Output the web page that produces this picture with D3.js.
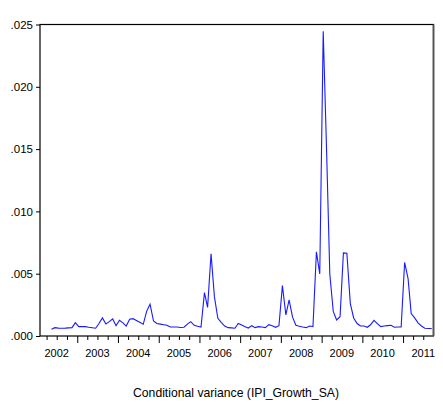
<!DOCTYPE html>
<html>
<head>
<meta charset="utf-8">
<script src="https://cdn.jsdelivr.net/npm/d3@7"></script>
<style>
  body { margin: 0; background: #fff; }
  svg { display: block; font-family: "Liberation Sans", Arial, sans-serif; }
  .axis text { fill: #000; }
</style>
</head>
<body>
<svg width="443" height="404"></svg>
<script>
'use strict';

// monthly conditional variance, 2002M05 .. 2011M09
var startMonth = [2002, 4];   // year, month index (May)
var variance = [
  0.00054, 0.00067, 0.00063, 0.00062, 0.00063, 0.00065, 0.00067, 0.00107, 0.00075, 0.00075,
  0.00075, 0.00070, 0.00066, 0.00062, 0.00100, 0.00145, 0.00096, 0.00115, 0.00137, 0.00083,
  0.00126, 0.00105, 0.00080, 0.00134, 0.00139, 0.00125, 0.00110, 0.00094, 0.00200, 0.00255,
  0.00120, 0.00100, 0.00095, 0.00090, 0.00086, 0.00072, 0.00072, 0.00072, 0.00068, 0.00070,
  0.00095, 0.00115, 0.00086, 0.00078, 0.00072, 0.00348, 0.00230, 0.00660, 0.00316, 0.00142,
  0.00110, 0.00080, 0.00067, 0.00065, 0.00062, 0.00100, 0.00088, 0.00075, 0.00064, 0.00083,
  0.00067, 0.00075, 0.00072, 0.00067, 0.00091, 0.00083, 0.00070, 0.00083, 0.00404, 0.00169,
  0.00290, 0.00151, 0.00086, 0.00078, 0.00072, 0.00067, 0.00080, 0.00075, 0.00675, 0.00498,
  0.02446, 0.01460, 0.00497, 0.00197, 0.00129, 0.00155, 0.00667, 0.00664, 0.00260, 0.00145,
  0.00100, 0.00080, 0.00080, 0.00070, 0.00090, 0.00125, 0.00100, 0.00075, 0.00080, 0.00083,
  0.00086, 0.00070, 0.00072, 0.00072, 0.00590, 0.00460, 0.00180, 0.00145, 0.00105, 0.00080,
  0.00062, 0.00060, 0.00060
];
var yTicks = [0, 0.005, 0.010, 0.015, 0.020, 0.025];
var yearLabels = [2002, 2003, 2004, 2005, 2006, 2007, 2008, 2009, 2010, 2011];
var title = "Conditional variance (IPI_Growth_SA)";

var data = variance.map(function(v, i) {
  return { date: new Date(startMonth[0], startMonth[1] + i, 15), value: v };
});

var svg = d3.select("svg");
var margin = {top: 24.5, right: 9.5, bottom: 68, left: 40};
var width = +svg.attr("width") - margin.left - margin.right;
var height = +svg.attr("height") - margin.top - margin.bottom;

var x = d3.scaleTime()
    .domain([new Date(2002, 1, 1), new Date(2011, 9, 1)])
    .range([0, width]);
var y = d3.scaleLinear()
    .domain([0, 0.025])
    .range([height, 0]);

var g = svg.append("g")
    .attr("transform", "translate(" + margin.left + "," + margin.top + ")");

// frame
g.append("rect")
    .attr("width", width)
    .attr("height", height)
    .attr("fill", "none")
    .attr("stroke", "#000")
    .attr("stroke-width", 1.2);
g.append("line")
    .attr("x1", width).attr("x2", width)
    .attr("y1", 0).attr("y2", height)
    .attr("stroke", "#555")
    .attr("stroke-width", 1.8);

// y axis
var yAxis = d3.axisLeft(y)
    .tickValues(yTicks)
    .tickSize(4)
    .tickPadding(3)
    .tickFormat(function(d) { return d3.format(".3f")(d).replace(/^0/, ""); });
g.append("g")
    .attr("class", "axis yaxis")
    .call(yAxis)
    .call(function(s) { s.select(".domain").remove(); })
    .selectAll("text")
    .attr("font-size", 11.5);

// x axis: quarterly minor ticks, yearly major ticks
var quarters = d3.timeMonth.every(3).range(x.domain()[0], x.domain()[1])
    .filter(function(d) { return d.getMonth() !== 0; });
g.append("g")
    .attr("class", "axis xminor")
    .attr("transform", "translate(0," + height + ")")
    .call(d3.axisBottom(x).tickValues(quarters).tickSize(4).tickFormat(""))
    .call(function(s) { s.select(".domain").remove(); });

g.append("g")
    .attr("class", "axis xmajor")
    .attr("transform", "translate(0," + height + ")")
    .call(d3.axisBottom(x).ticks(d3.timeYear.every(1)).tickSize(7).tickFormat(""))
    .call(function(s) { s.select(".domain").remove(); });

g.append("g")
    .attr("class", "axis xlabels")
    .selectAll("text")
    .data(yearLabels)
    .enter().append("text")
    .attr("x", function(d) { return x(new Date(d, 6, 1)); })
    .attr("y", height + 21)
    .attr("text-anchor", "middle")
    .attr("font-size", 11)
    .text(function(d) { return d; });

// series
var line = d3.line()
    .x(function(d) { return x(d.date); })
    .y(function(d) { return y(d.value); });

g.append("path")
    .datum(data)
    .attr("fill", "none")
    .attr("stroke", "#1a1aff")
    .attr("stroke-width", 1.1)
    .attr("d", line);

svg.append("text")
    .attr("x", 236)
    .attr("y", 397)
    .attr("text-anchor", "middle")
    .attr("font-size", 12.2)
    .text(title);
</script>
</body>
</html>
